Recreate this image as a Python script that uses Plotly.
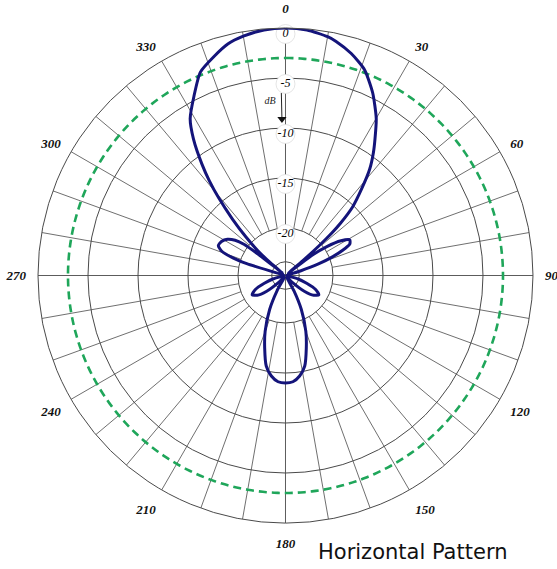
import plotly.graph_objects as go
import numpy as np

# ---- data ----
pattern_angle = [0, 5, 10, 12.2, 16.5, 21, 25.5, 30, 33.2, 35.5, 38.4, 41.3, 44.3, 46.5, 47.5, 48.5, 49.5, 50.5,
                 52.5, 55, 58, 61, 64, 66.2, 68.5, 70.6, 73, 75, 85, 100,
                 105, 110, 115, 120, 125, 130, 135, 140, 147,
                 151, 155, 160, 164, 168, 172, 176, 180, 184, 188, 192, 196, 200, 205, 209, 213,
                 220, 225, 230, 235, 240, 245, 250, 255, 260, 275, 285,
                 287, 288.5, 291, 294, 298, 302, 305, 307, 308, 309,
                 310, 312, 314.3, 316.8, 319.3, 321.2, 323.1, 326, 328.7, 333, 337.3, 342, 346, 350, 355, 360]
pattern_db = [0, -0.1, -0.5, -0.8, -1.6, -2.7, -4.5, -6.6, -8.4, -9.6, -11.2, -13.2, -15.1, -17.2, -18.5, -20.3, -22.5, -24.4,
              -21.5, -19.7, -18.2, -17.4, -17.6, -18.5, -19.8, -21.2, -23.2, -24.5, -24.6, -24.5,
              -23.5, -22.5, -21.4, -20.9, -21.3, -22.3, -23.7, -24.5, -24.5,
              -23.0, -21.0, -18.8, -17.2, -15.5, -14.6, -14.1, -14.0, -14.1, -14.6, -15.5, -17.2, -18.8, -21.0, -23.0, -24.5,
              -24.5, -23.7, -22.3, -21.3, -20.9, -21.4, -22.5, -23.5, -24.5, -24.6, -24.4,
              -20.7, -19.2, -17.9, -17.4, -17.5, -17.9, -18.6, -19.6, -21.5, -24.4,
              -22.8, -21.0, -19.2, -17.0, -14.5, -12.6, -10.85, -8.3, -6.4, -4.6, -2.7, -1.7, -0.9, -0.45, -0.1, 0]

half_power_db = -3
radial_ticks = [0, -5, -10, -15, -20]
radial_tick_text = ["0", "-5", "-10", "-15", "-20"]
angle_ticks = list(range(0, 360, 30))
angle_tick_text = [str(a) for a in angle_ticks]
spoke_angles = list(range(0, 360, 10))
cardinal_angles = [0, 90, 180, 270]
title_text = "Horizontal Pattern"

R_MIN = -24.75
R_MAX = 0
INNER_CIRCLE = -23.37
GRID = "#4a4a4a"

fig = go.Figure()

# spokes from -20 dB circle outward
sr, st = [], []
for a in spoke_angles:
    if a in cardinal_angles:
        continue
    sr += [-20, R_MAX, None]
    st += [a, a, None]
fig.add_trace(go.Scatterpolar(r=sr, theta=st, mode="lines", line=dict(color=GRID, width=0.8),
                              hoverinfo="skip", showlegend=False))
# cardinal lines through centre
cr, ct = [], []
for a in cardinal_angles:
    cr += [R_MIN, R_MAX, None]
    ct += [a, a, None]
fig.add_trace(go.Scatterpolar(r=cr, theta=ct, mode="lines", line=dict(color=GRID, width=0.9),
                              hoverinfo="skip", showlegend=False))

# -3 dB circle
circ_t = np.linspace(0, 360, 361)
fig.add_trace(go.Scatterpolar(r=[half_power_db] * len(circ_t), theta=circ_t, mode="lines",
                              line=dict(color="#1fa65a", width=2.6, dash="8px,5px"),
                              hoverinfo="skip", showlegend=False, cliponaxis=False))

# radial labels with white ovals
lab_r = [v - 0.6 for v in radial_ticks]
fig.add_trace(go.Scatterpolar(r=lab_r, theta=[0] * len(lab_r), mode="markers+text",
                              marker=dict(symbol="circle", size=19, color="white",
                                          line=dict(color="#dddddd", width=0.8)),
                              text=radial_tick_text, textposition="middle center",
                              textfont=dict(family="Liberation Serif", size=12, color="#000000", style="italic"),
                              hoverinfo="skip", showlegend=False, cliponaxis=False))

# dB arrow
fig.add_trace(go.Scatterpolar(r=[-6.5, -9.0], theta=[-1.3, -1.3], mode="lines",
                              line=dict(color="#222222", width=1), hoverinfo="skip", showlegend=False))
fig.add_trace(go.Scatterpolar(r=[-9.1], theta=[-1.3], mode="markers",
                              marker=dict(symbol="triangle-down", size=8, color="#111111"),
                              hoverinfo="skip", showlegend=False))
fig.add_trace(go.Scatterpolar(r=[-7.3], theta=[-5.1], mode="text", text=["dB"],
                              textfont=dict(family="Liberation Serif", size=10, color="#222222", style="italic"),
                              hoverinfo="skip", showlegend=False))

# antenna pattern
fig.add_trace(go.Scatterpolar(r=pattern_db, theta=pattern_angle, mode="lines",
                              line=dict(color="#14147a", width=3, shape="spline", smoothing=0.6),
                              showlegend=False, cliponaxis=False))

fig.update_layout(
    width=557, height=569,
    margin=dict(l=0, r=0, t=0, b=0),
    paper_bgcolor="white",
    showlegend=False,
    polar=dict(
        domain=dict(x=[0.0682, 0.9569], y=[0.0808, 0.9508]),
        bgcolor="white",
        radialaxis=dict(range=[R_MIN, R_MAX], tickvals=[INNER_CIRCLE] + radial_ticks[1:],
                        showticklabels=False, ticks="", showline=False,
                        gridcolor=GRID, gridwidth=0.8),
        angularaxis=dict(rotation=90, direction="clockwise", tickvals=angle_ticks, ticktext=angle_tick_text,
                         showgrid=False, showline=True, linecolor=GRID, linewidth=1,
                         ticks="outside", ticklen=9, tickcolor="rgba(0,0,0,0)",
                         tickfont=dict(family="Liberation Serif", size=13, color="#111111",
                                       style="italic", weight="bold")),
    ),
    annotations=[dict(text=title_text, xref="paper", yref="paper", x=0.74, y=0.03,
                      xanchor="center", yanchor="middle", showarrow=False,
                      font=dict(family="DejaVu Sans", size=21, color="#111111"))],
)

fig.write_html("out.html", config={"displayModeBar": False},
               post_script="document.body.style.margin='0px';")
